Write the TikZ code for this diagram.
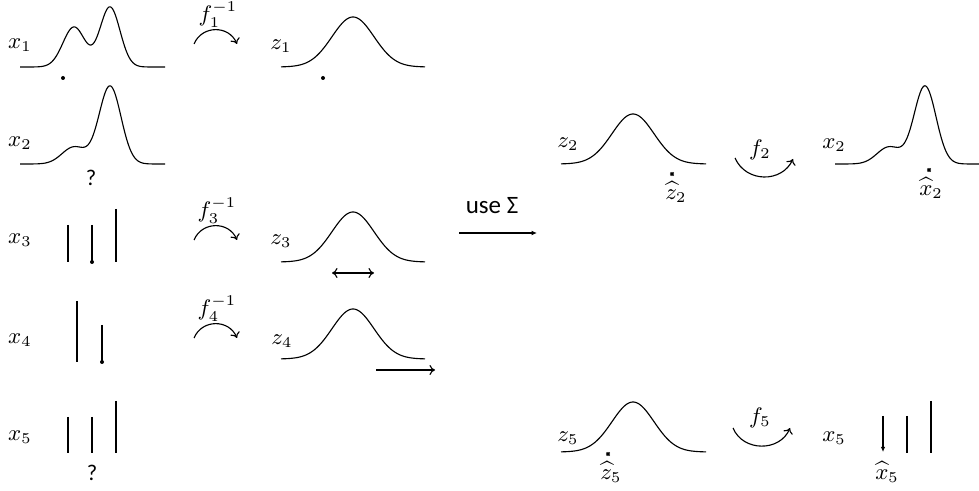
\documentclass[tikz,border=0pt]{standalone}
\usepackage{fontspec}
\newfontfamily\carlito{Carlito}
\usetikzlibrary{arrows.meta}
\begin{document}
\begin{tikzpicture}[x=0.4pt,y=-0.4pt,
  declare function={g(\t,\m,\a,\s)=\a*exp(-((\t-\m)*(\t-\m))/(2*\s*\s));},
  curve/.style={line width=0.45pt},
  vline/.style={line width=0.45pt},
  lbl/.style={inner sep=0pt,font=\fontsize{9}{10}\selectfont},
  sans/.style={inner sep=0pt,font=\carlito\fontsize{9}{10}\selectfont},
  flow/.style={line width=0.45pt,-{To[length=2.2pt,width=4pt]}},
  movearrow/.style={line width=0.45pt,-{To[length=2.2pt,width=4pt]}},
  bothway/.style={line width=0.45pt,{To[length=2.2pt,width=4pt]}-{To[length=2.2pt,width=4pt]}},
  usearrow/.style={line width=0.45pt,-{Latex[length=2.2pt,width=2pt]}},
  dot/.style={fill=black},
  xmark/.style={line width=0.6pt}]
\useasboundingbox (0,0) rectangle (979,491);

% ---------- labels ----------
\node[lbl] (x1) at (20,45) {$x_1$};
\node[lbl] (z1) at (281,46) {$z_1$};
\node[lbl] (x2L) at (20,143) {$x_2$};
\node[lbl] (x3) at (20,240) {$x_3$};
\node[lbl] (z3) at (281,241) {$z_3$};
\node[lbl] (x4) at (20,340) {$x_4$};
\node[lbl] (z4) at (282,341) {$z_4$};
\node[lbl] (x5L) at (20,437) {$x_5$};
\node[lbl] (z2) at (568,144) {$z_2$};
\node[lbl] (x2R) at (834,145) {$x_2$};
\node[lbl] (z5) at (568,438) {$z_5$};
\node[lbl] (x5R) at (834,438) {$x_5$};

\node[lbl,anchor=south] (f1) at (218,28) {$f_1^{-1}$};
\node[lbl,anchor=south] (f3) at (217,224) {$f_3^{-1}$};
\node[lbl,anchor=south] (f4) at (217,322) {$f_4^{-1}$};
\node[lbl] (f2) at (760,150) {$f_2$};
\node[lbl] (f5) at (760,418) {$f_5$};

\node[lbl,anchor=north] (zh2) at (676,181) {$\widehat{z}_2$};
\node[lbl,anchor=north] (xh2) at (931,177) {$\widehat{x}_2$};
\node[lbl,anchor=north] (zh5) at (611,461) {$\widehat{z}_5$};
\node[lbl,anchor=north] (xh5) at (887,461) {$\widehat{x}_5$};

\node[sans] (q1) at (91,178) {?};
\node[sans] (q2) at (92,473) {?};
\node[inner sep=0pt,font=\carlito\fontsize{10}{12}\selectfont] (use) at (492,206) {use Σ};

% ---------- density curves ----------
\draw[curve] plot[domain=20:165,samples=150,smooth] (\x,{67-g(\x,74,40,11)-g(\x,110,60,10)});
\draw[curve] plot[domain=281:425,samples=120,smooth] (\x,{67-g(\x,353,50,21)});
\draw[curve] plot[domain=20:165,samples=150,smooth] (\x,{164-g(\x,74,17,12)-g(\x,110,78,11)});
\draw[curve] plot[domain=281:425,samples=120,smooth] (\x,{262-g(\x,353,50,21)});
\draw[curve] plot[domain=281:425,samples=120,smooth] (\x,{359-g(\x,353,50,21)});
\draw[curve] plot[domain=561:706,samples=120,smooth] (\x,{164-g(\x,633,50,21)});
\draw[curve] plot[domain=561:706,samples=120,smooth] (\x,{452-g(\x,633,50,21)});
\draw[curve] plot[domain=835:979,samples=150,smooth] (\x,{164-g(\x,889,17,12)-g(\x,925,78,11)});

% ---------- dots ----------
\coordinate (d1) at (63,78);
\coordinate (d2) at (323,78);
\fill[dot] (d1) circle[radius=0.8pt];
\fill[dot] (d2) circle[radius=0.8pt];

% ---------- vertical bars ----------
\coordinate (a3t) at (68,225);  \coordinate (a3b) at (68,262);
\coordinate (b3t) at (92,225);  \coordinate (b3b) at (92,262);
\coordinate (c3t) at (116,209); \coordinate (c3b) at (116,262);
\draw[vline] (a3t) -- (a3b);
\draw[vline] (b3t) -- (b3b);
\draw[vline] (c3t) -- (c3b);
\fill[dot] (b3b) circle[radius=0.8pt];

\coordinate (a4t) at (77,301);  \coordinate (a4b) at (77,362);
\coordinate (b4t) at (102,325); \coordinate (b4b) at (102,362);
\draw[vline] (a4t) -- (a4b);
\draw[vline] (b4t) -- (b4b);
\fill[dot] (b4b) circle[radius=0.8pt];

\coordinate (a5t) at (68,417);  \coordinate (a5b) at (68,453);
\coordinate (b5t) at (92,417);  \coordinate (b5b) at (92,453);
\coordinate (c5t) at (116,401); \coordinate (c5b) at (116,453);
\draw[vline] (a5t) -- (a5b);
\draw[vline] (b5t) -- (b5b);
\draw[vline] (c5t) -- (c5b);

\coordinate (a6t) at (883,416); \coordinate (a6b) at (883,452);
\coordinate (b6t) at (907,416); \coordinate (b6b) at (907,453);
\coordinate (c6t) at (931,401); \coordinate (c6b) at (931,453);
\draw[vline,-{Latex[length=2pt,width=1.8pt]}] (a6t) -- (a6b);
\draw[vline] (b6t) -- (b6b);
\draw[vline] (c6t) -- (c6b);

% ---------- x marks ----------
\coordinate (mz2) at (672,174);
\coordinate (mx2) at (929,170);
\coordinate (mz5) at (608,454);
\draw[xmark] (mz2) +(-1.5,-1.5) -- +(1.5,1.5) (mz2) +(1.5,-1.5) -- +(-1.5,1.5);
\draw[xmark] (mx2) +(-1.5,-1.5) -- +(1.5,1.5) (mx2) +(1.5,-1.5) -- +(-1.5,1.5);
\draw[xmark] (mz5) +(-1.5,-1.5) -- +(1.5,1.5) (mz5) +(1.5,-1.5) -- +(-1.5,1.5);

% ---------- shift arrows ----------
\coordinate (s3a) at (332,273); \coordinate (s3b) at (374,273);
\draw[bothway] (s3a) -- (s3b);
\coordinate (s4a) at (376,370); \coordinate (s4b) at (435,370);
\draw[movearrow] (s4a) -- (s4b);

\coordinate (ua) at (459,233); \coordinate (ub) at (537,233);
\draw[usearrow] (ua) -- (ub);

% ---------- map arcs ----------
\coordinate (f1a) at (194,44);  \coordinate (f1b) at (237,44);
\draw[flow] (f1a) .. controls (202,25) and (229,25) .. (f1b);
\coordinate (f3a) at (194,240); \coordinate (f3b) at (237,240);
\draw[flow] (f3a) .. controls (202,221) and (229,221) .. (f3b);
\coordinate (f4a) at (194,338); \coordinate (f4b) at (237,338);
\draw[flow] (f4a) .. controls (202,319) and (229,319) .. (f4b);
\coordinate (f2a) at (735,158); \coordinate (f2b) at (793,159);
\draw[flow] (f2a) .. controls (746,183) and (782,183) .. (f2b);
\coordinate (f5a) at (733,428); \coordinate (f5b) at (790,428);
\draw[flow] (f5a) .. controls (743,452) and (780,452) .. (f5b);
\end{tikzpicture}
\end{document}
